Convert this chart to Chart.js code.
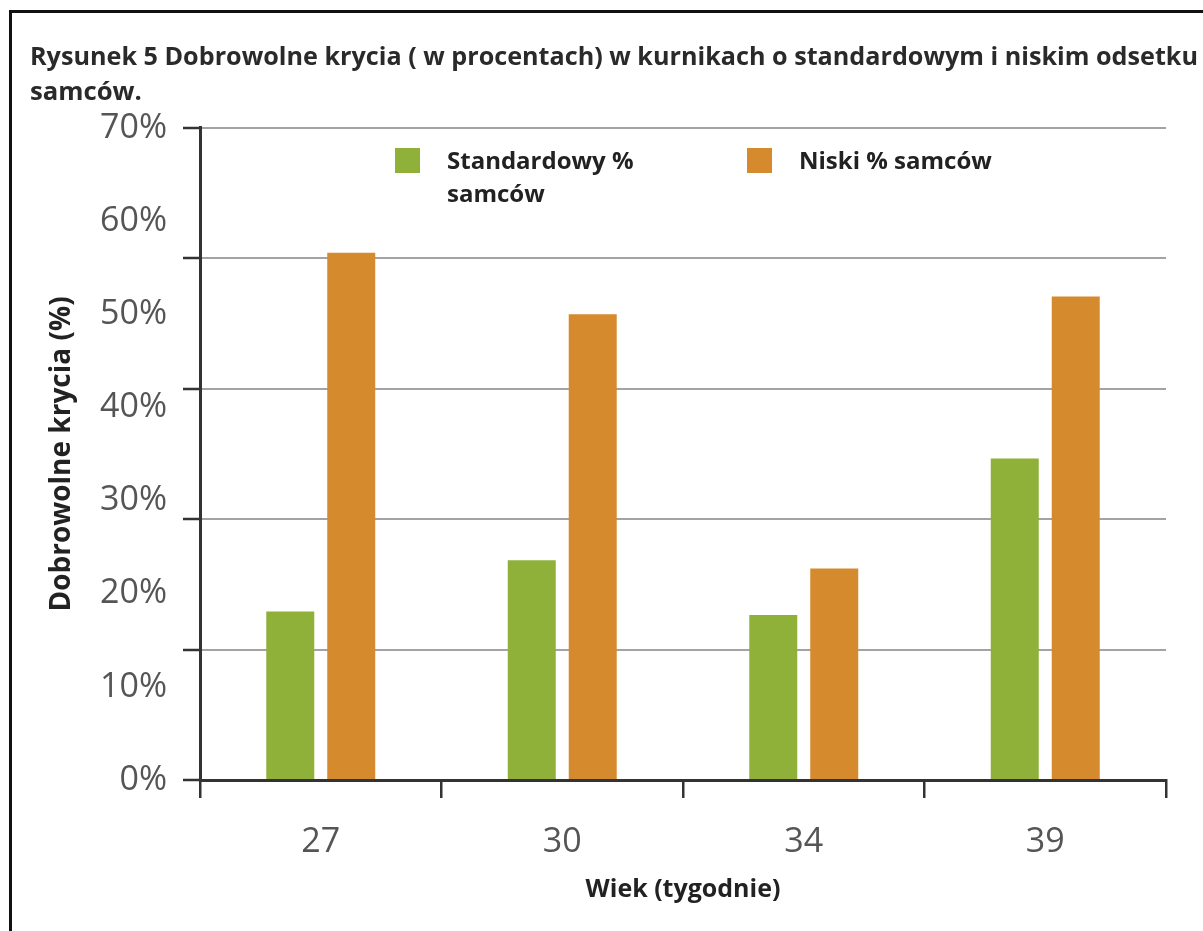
<!DOCTYPE html>
<html>
<head>
<meta charset="utf-8">
<script src="https://cdn.jsdelivr.net/npm/chart.js@4.4.0/dist/chart.umd.min.js"></script>
<style>
  html, body { margin: 0; padding: 0; background: #fff; }
  body { width: 1203px; height: 931px; position: relative; overflow: hidden; font-family: "Open Sans", sans-serif; }
  #frame { position: absolute; left: 9px; top: 10px; right: -10px; bottom: -10px; border-top: 3px solid #111; border-left: 3px solid #111; }
  #wrap { position: absolute; left: 0; top: 0; width: 1203px; height: 931px; }
  #legend { position: absolute; left: 395px; top: 143px; display: flex; }
  .item { display: flex; align-items: flex-start; font-weight: 700; font-size: 24px; color: #222; line-height: 33px; }
  .swatch { width: 25px; height: 25px; margin-top: 5px; margin-right: 27px; flex: none; }
</style>
</head>
<body>
<div id="frame"></div>
<div id="wrap"><canvas id="chart" width="1203" height="931"></canvas></div>
<div id="legend"></div>
<script>
// Age in weeks, voluntary matings in %
const weeks = ['27', '30', '34', '39'];
const standardMales = [18.1, 23.6, 17.7, 34.5];
const lowMales = [56.6, 50.0, 22.7, 51.9];

const seriesLabels = ['Standardowy % samców', 'Niski % samców'];
const seriesColors = ['#8fb13a', '#d58a2d'];
const legendWidths = [250, null];

const titleLines = [
  'Rysunek 5 Dobrowolne krycia ( w procentach) w kurnikach o standardowym i niskim odsetku',
  'samców.',
];

// legend sits inside the plot, under the top gridline, so it's plain HTML
const legendEl = document.getElementById('legend');
seriesLabels.forEach((label, i) => {
  const item = document.createElement('div');
  item.className = 'item';
  if (legendWidths[i]) item.style.width = legendWidths[i] + 'px';
  else item.style.whiteSpace = 'nowrap';
  item.style.marginRight = i === 0 ? '102px' : '0';
  item.innerHTML = `<span class="swatch" style="background:${seriesColors[i]}"></span><span>${label}</span>`;
  legendEl.appendChild(item);
});

const tickFont = { family: 'Open Sans', size: 34 };
const dark = '#333';

new Chart(document.getElementById('chart').getContext('2d'), {
  type: 'bar',
  data: {
    labels: weeks,
    datasets: [
      { label: seriesLabels[0], data: standardMales, backgroundColor: seriesColors[0] },
      { label: seriesLabels[1], data: lowMales, backgroundColor: seriesColors[1] },
    ],
  },
  options: {
    responsive: false,
    animation: false,
    events: [],
    datasets: { bar: { categoryPercentage: 0.505, barPercentage: 0.787 } },
    // small right padding so the long title is not squeezed; the plot's right
    // margin comes from the empty spacer axis below
    layout: { padding: { left: 30, right: 5, top: 30, bottom: 26 } },
    scales: {
      x: {
        afterFit: (s) => { s.height = 125; },
        grid: { drawOnChartArea: false, drawTicks: true, tickLength: 18, color: dark, lineWidth: 2.5 },
        border: { color: dark, width: 3, z: 1 },
        ticks: { font: tickFont, color: '#555', padding: 24 },
        title: {
          display: true,
          text: 'Wiek (tygodnie)',
          font: { family: 'Open Sans', size: 25, weight: '700' },
          color: '#222',
          padding: { top: 4, bottom: 0 },
        },
      },
      // tick labels every 10 % (no grid of their own)
      y: {
        position: 'left',
        weight: 1,
        min: 0,
        max: 70,
        afterFit: (s) => { s.width = 153; },
        grid: { display: false, drawTicks: false },
        border: { display: false },
        ticks: { stepSize: 10, font: tickFont, color: '#555', padding: 16, callback: (v) => v + '%' },
        title: {
          display: true,
          text: 'Dobrowolne krycia (%)',
          font: { family: 'Open Sans', size: 28, weight: '700' },
          color: '#222',
          padding: { top: 15, bottom: 6 },
        },
      },
      // gridlines in the original do not line up with the labels: 5 equal bands
      yGrid: {
        position: 'left',
        weight: 0,
        min: 0,
        max: 70,
        afterFit: (s) => { s.width = 17; },
        grid: { color: '#a3a3a3', lineWidth: 2, tickColor: dark, tickWidth: 2.5, tickLength: 17 },
        border: { color: dark, width: 3 },
        ticks: { stepSize: 14, display: false },
      },
      spacer: {
        position: 'right',
        min: 0,
        max: 70,
        afterFit: (s) => { s.width = 32; },
        grid: { display: false, drawTicks: false },
        border: { display: false },
        ticks: { display: false },
      },
    },
    plugins: {
      legend: { display: false },
      tooltip: { enabled: false },
      title: {
        display: true,
        text: titleLines,
        align: 'start',
        color: '#2a2a2a',
        font: { family: 'Open Sans', size: 25.7, weight: '700', lineHeight: 1.36 },
        padding: { top: 10, bottom: 18 },
      },
    },
  },
});
</script>
</body>
</html>
